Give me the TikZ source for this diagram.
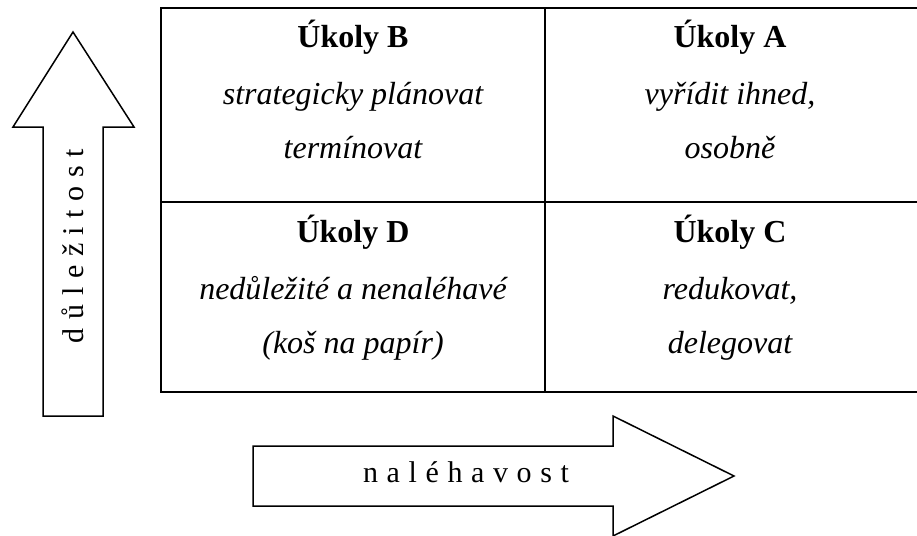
\documentclass[tikz,border=0pt]{standalone}
\usepackage{fontspec}
\setmainfont{Liberation Serif}
\begin{document}
\begin{tikzpicture}[x=1pt,y=-1pt,
  every node/.style={inner sep=0pt,outer sep=0pt},
  hd/.style={anchor=base,font=\fontsize{32}{36}\selectfont\bfseries},
  it/.style={anchor=base,font=\fontsize{32}{36}\selectfont\itshape},
  lab/.style={font=\fontsize{30}{34}\selectfont},
  frame/.style={line width=1.5pt,line join=miter}]
\useasboundingbox (0,0) rectangle (917,535);
% table
\draw[frame] (161,8) rectangle (930,392);
\draw[frame] (545,8) -- (545,392);
\draw[frame] (161,202) -- (930,202);
% up arrow
\draw[frame] (73,32) -- (134,127) -- (103,127) -- (103,416) -- (43,416) -- (43,127) -- (13,127) -- cycle;
% right arrow
\draw[frame] (734,476) -- (613,536) -- (613,506) -- (253,506) -- (253,446) -- (613,446) -- (613,416) -- cycle;
% cell B
\node[hd] (bh) at (353,48) {Úkoly B};
\node[it] (b1) at (353,104) {strategicky plánovat};
\node[it] (b2) at (353,158) {termínovat};
% cell A
\node[hd] (ah) at (730,48) {Úkoly A};
\node[it] (a1) at (730,104) {vyřídit ihned,};
\node[it] (a2) at (730,158) {osobně};
% cell D
\node[hd] (dh) at (353,242) {Úkoly D};
\node[it] (d1) at (353,299) {nedůležité a nenaléhavé};
\node[it] (d2) at (353,353) {(koš na papír)};
% cell C
\node[hd] (ch) at (730,242) {Úkoly C};
\node[it] (c1) at (730,299) {redukovat,};
\node[it] (c2) at (730,353) {delegovat};
% axis labels
\def\g{\hspace{8.6pt}}
\node[lab,anchor=base] (nal) at (466,482) {n\g a\g l\g é\g h\g a\g v\g o\g s\g t};
\node[lab] (dul) at (73,246) {\rotatebox{90}{d\g ů\g l\g e\g ž\g i\g t\g o\g s\g t}};
\end{tikzpicture}
\end{document}
